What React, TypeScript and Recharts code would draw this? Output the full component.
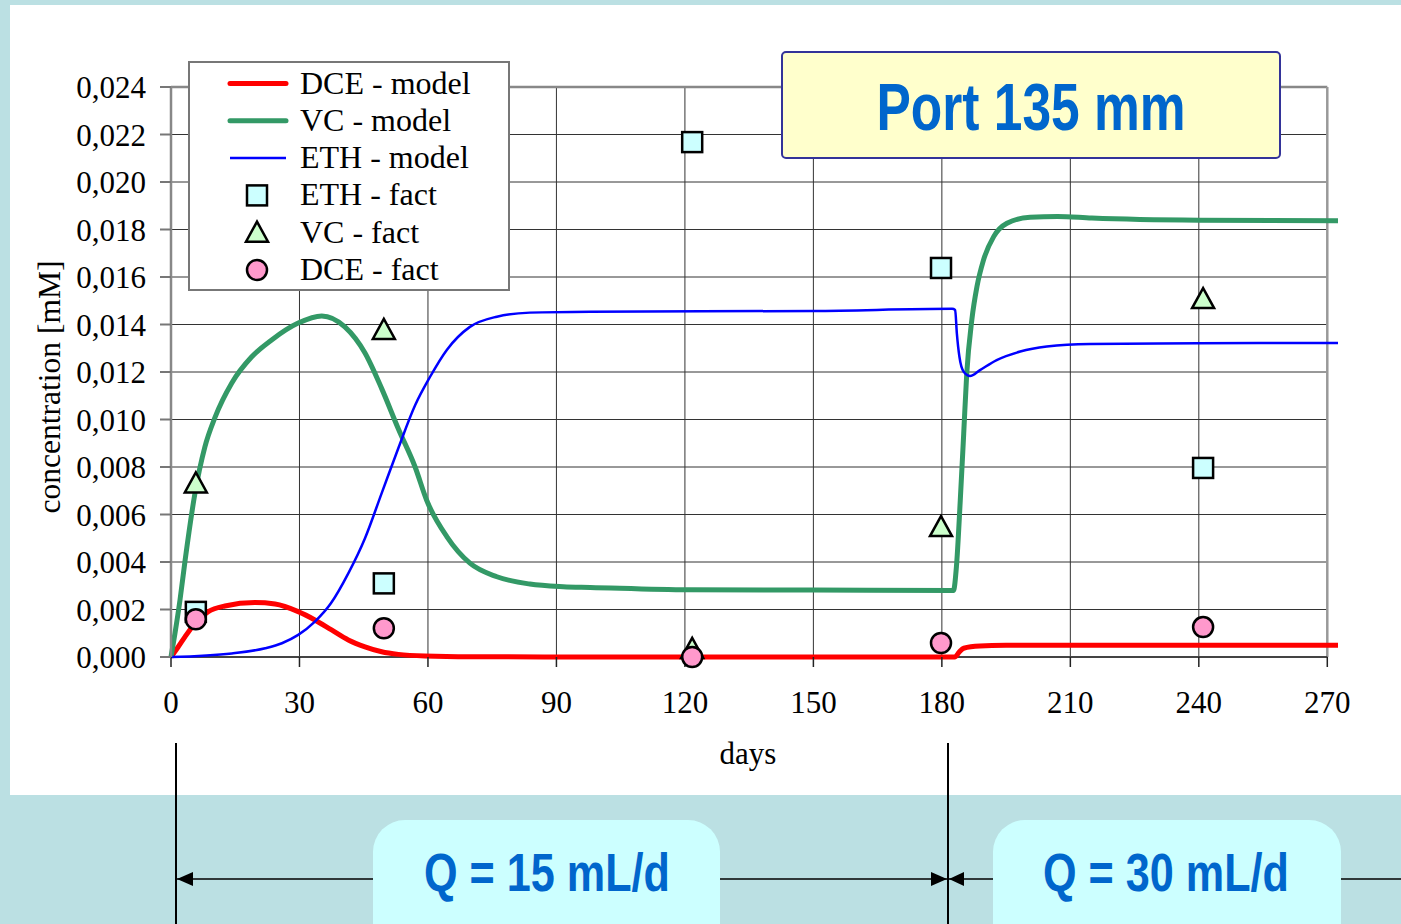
import { ComposedChart, Line, Scatter, XAxis, YAxis, ReferenceLine, Legend } from "recharts";

const serif = '"Liberation Serif", "Times New Roman", serif';
const narrow = '"Liberation Sans Narrow", "Arial Narrow", "Liberation Sans", Arial, sans-serif';

// axes
const xTicks = [0, 30, 60, 90, 120, 150, 180, 210, 240, 270];
const yTicks = [0, 0.002, 0.004, 0.006, 0.008, 0.01, 0.012, 0.014, 0.016, 0.018, 0.02, 0.022, 0.024];
const gridValues = [0.002, 0.004, 0.006, 0.008, 0.01, 0.012, 0.014, 0.016, 0.018, 0.02, 0.022];
const gridDays = [30, 60, 90, 120, 150, 180, 210, 240];

const legendNames = ["DCE - model", "VC - model", "ETH - model", "ETH - fact", "VC - fact", "DCE - fact"];

// model curves (days / mM)
const dceModelDays = [0, 1.7, 3.3, 5.6, 8.7, 12.6, 19.6, 24.3, 29.7, 33.6, 37.5, 41.4, 45.3, 49.2, 53.1, 59.3, 70, 100, 150, 183, 184.1, 185.1, 188.9, 195, 210, 240, 272.5];
const dceModelValues = [0, 0.00043, 0.00086, 0.00142, 0.00191, 0.00215, 0.00229, 0.00223, 0.00191, 0.00156, 0.00114, 0.00072, 0.00043, 0.00022, 0.00011, 0.00004, 0.00001, 0, 0, 0, 0.00022, 0.00037, 0.00046, 0.00049, 0.0005, 0.0005, 0.0005];

const vcModelDays = [0, 0.93, 2.1, 3.3, 5.6, 7.9, 10.3, 14.2, 18.8, 23.5, 29.7, 35.2, 40.6, 45.3, 49.2, 53.1, 57, 59.7, 64.4, 69.8, 76.1, 83.8, 91.6, 97.9, 120.9, 150, 182.7, 183.4, 184.3, 185.1, 185.8, 187, 188.2, 189.7, 192.1, 195.2, 200.6, 207, 215, 240, 272.5];
const vcModelValues = [0, 0.001, 0.0024, 0.00408, 0.0069, 0.00884, 0.0101, 0.01154, 0.01263, 0.01335, 0.01406, 0.01436, 0.0139, 0.0128, 0.0113, 0.0096, 0.008, 0.0066, 0.00507, 0.00395, 0.00338, 0.00307, 0.00296, 0.00293, 0.00283, 0.00282, 0.0028, 0.0038, 0.0066, 0.0094, 0.0119, 0.0142, 0.0156, 0.0167, 0.0177, 0.01826, 0.01852, 0.01855, 0.01848, 0.01839, 0.01837];

const ethModelDays = [0, 14.2, 22, 25.9, 29.7, 33.6, 37.3, 41.4, 45.3, 49.2, 53.1, 57, 60.5, 64.4, 69.8, 76.1, 83.8, 97.9, 150, 182.4, 183.1, 183.5, 184.1, 185.1, 186.6, 188.9, 192.8, 198.3, 204.5, 214.6, 240, 272.5];
const ethModelValues = [0, 0.00015, 0.00037, 0.00058, 0.00093, 0.00149, 0.00225, 0.00352, 0.005, 0.0069, 0.0088, 0.0106, 0.0118, 0.01293, 0.0139, 0.01433, 0.0145, 0.01454, 0.01457, 0.01466, 0.01461, 0.01363, 0.01264, 0.01201, 0.01183, 0.01208, 0.0125, 0.01286, 0.01307, 0.01318, 0.01321, 0.01322];

// measured
const factDays = [5.8, 49.7, 121.7, 179.8, 241];
const ethFactValues = [0.0019, 0.0031, 0.02168, 0.01638, 0.00796];
const vcFactValues = [0.00731, 0.01377, 0.00034, 0.00547, 0.01507];
const dceFactValues = [0.00159, 0.00121, 0, 0.00059, 0.00126];

const zip = (days: number[], values: number[]) => days.map((day, i) => ({ day, value: values[i] }));

const dceModel = zip(dceModelDays, dceModelValues);
const vcModel = zip(vcModelDays, vcModelValues);
const ethModel = zip(ethModelDays, ethModelValues);
const ethFact = zip(factDays, ethFactValues);
const vcFact = zip(factDays, vcFactValues);
const dceFact = zip(factDays, dceFactValues);

function SquareMark({ cx, cy }: any) {
  return <rect x={cx - 10} y={cy - 10} width={20} height={20} fill="#ccffff" stroke="#000" strokeWidth={2.5} />;
}
function TriangleMark({ cx, cy }: any) {
  return <polygon points={`${cx},${cy - 11} ${cx - 11},${cy + 9} ${cx + 11},${cy + 9}`} fill="#ccffcc" stroke="#000" strokeWidth={2.5} />;
}
function CircleMark({ cx, cy }: any) {
  return <circle cx={cx} cy={cy} r={10} fill="#ff99cc" stroke="#000" strokeWidth={2.5} />;
}

function LegendBox() {
  const rowY = (i: number) => 22.5 + i * 37.3;
  return (
    <svg width={322} height={230} style={{ display: "block" }}>
      <rect x={1} y={1} width={320} height={228} fill="#fff" stroke="#777" strokeWidth={2} />
      {legendNames.map((name, i) => {
        const y = rowY(i);
        let mark;
        if (i === 0) mark = <line x1={42} x2={98} y1={y} y2={y} stroke="#ff0000" strokeWidth={5} strokeLinecap="round" />;
        else if (i === 1) mark = <line x1={42} x2={98} y1={y} y2={y} stroke="#339966" strokeWidth={5} strokeLinecap="round" />;
        else if (i === 2) mark = <line x1={42} x2={98} y1={y} y2={y} stroke="#0000ff" strokeWidth={2.5} />;
        else if (i === 3) mark = <SquareMark cx={69} cy={y} />;
        else if (i === 4) mark = <TriangleMark cx={69} cy={y} />;
        else mark = <CircleMark cx={69} cy={y} />;
        return (
          <g key={name}>
            {mark}
            <text x={112} y={y + 10} fontFamily={serif} fontSize={32} fill="#000">{name}</text>
          </g>
        );
      })}
    </svg>
  );
}

const fmt = (v: number) => v.toFixed(3).replace(".", ",");

export default function App() {
  return (
    <div style={{ position: "absolute", left: 0, top: 0, width: 1401, height: 924, background: "#bbe0e3", overflow: "hidden" }}>
      <div style={{ position: "absolute", left: 10, top: 5, width: 1391, height: 790, background: "#fff" }} />
      <div style={{ position: "absolute", left: 0, top: 0 }}>
        <ComposedChart width={1401} height={800} margin={{ top: 87, right: 63, bottom: 83, left: 71 }}>
          {gridDays.map((d) => (
            <ReferenceLine key={"v" + d} segment={[{ x: d, y: 0 }, { x: d, y: 0.024 }]} stroke="#333" strokeWidth={1} />
          ))}
          {gridValues.map((v) => (
            <ReferenceLine key={"h" + v} segment={[{ x: 0, y: v }, { x: 270, y: v }]} stroke="#333" strokeWidth={1} />
          ))}
          <ReferenceLine segment={[{ x: 0, y: 0.024 }, { x: 270, y: 0.024 }]} stroke="#888" strokeWidth={2.5} />
          <ReferenceLine segment={[{ x: 270, y: 0 }, { x: 270, y: 0.024 }]} stroke="#999" strokeWidth={2.5} />
          <ReferenceLine segment={[{ x: 0, y: 0 }, { x: 270, y: 0 }]} stroke="#444" strokeWidth={2} />
          <XAxis
            type="number"
            dataKey="day"
            domain={[0, 272.5]}
            ticks={xTicks}
            height={60}
            tickSize={10}
            tickMargin={24}
            axisLine={false}
            tickLine={{ stroke: "#222", strokeWidth: 1.5 }}
            tick={{ fontFamily: serif, fontSize: 31, fill: "#000" }}
          />
          <YAxis
            type="number"
            domain={[0, 0.024]}
            ticks={yTicks}
            width={100}
            tickSize={11}
            tickMargin={14}
            tickFormatter={fmt}
            axisLine={{ stroke: "#888", strokeWidth: 2.5 }}
            tickLine={{ stroke: "#777", strokeWidth: 2 }}
            tick={{ fontFamily: serif, fontSize: 31, fill: "#000" }}
          />
          <Legend
            layout="vertical"
            align="center"
            verticalAlign="middle"
            wrapperStyle={{ left: 188, top: 61, width: 322, height: 230 }}
            content={() => <LegendBox />}
          />
          <Line data={dceModel} dataKey="value" name="DCE - model" type="monotone" stroke="#ff0000" strokeWidth={5} dot={false} activeDot={false} isAnimationActive={false} />
          <Line data={vcModel} dataKey="value" name="VC - model" type="monotone" stroke="#339966" strokeWidth={5} dot={false} activeDot={false} isAnimationActive={false} />
          <Line data={ethModel} dataKey="value" name="ETH - model" type="monotone" stroke="#0000ff" strokeWidth={2.5} dot={false} activeDot={false} isAnimationActive={false} />
          <Scatter data={ethFact} dataKey="value" name="ETH - fact" shape={SquareMark} isAnimationActive={false} />
          <Scatter data={vcFact} dataKey="value" name="VC - fact" shape={TriangleMark} isAnimationActive={false} />
          <Scatter data={dceFact} dataKey="value" name="DCE - fact" shape={CircleMark} isAnimationActive={false} />
        </ComposedChart>
      </div>
      <svg width={1401} height={924} style={{ position: "absolute", left: 0, top: 0, pointerEvents: "none" }}>
        <text x={60} y={387} transform="rotate(-90, 60, 387)" textAnchor="middle" fontFamily={serif} fontSize={31.5} fill="#000">
          concentration [mM]
        </text>
        <text x={748} y={764} textAnchor="middle" fontFamily={serif} fontSize={31} fill="#000">days</text>

        <rect x={782} y={52} width={498} height={106} rx={4} fill="#ffffcc" stroke="#333399" strokeWidth={2} />
        <text x={1031} y={130} textAnchor="middle" fontFamily={narrow} fontWeight="bold" fontSize={66} fill="#0066cc" textLength={309} lengthAdjust="spacingAndGlyphs">
          Port 135 mm
        </text>

        <line x1={176} x2={176} y1={743} y2={924} stroke="#000" strokeWidth={2} />
        <line x1={948} x2={948} y1={743} y2={924} stroke="#000" strokeWidth={2} />
        <line x1={176} x2={1401} y1={879} y2={879} stroke="#000" strokeWidth={1.5} />
        <polygon points="177,879 193,872 193,886" fill="#000" />
        <polygon points="947,879 931,872 931,886" fill="#000" />
        <polygon points="949,879 964,872 964,886" fill="#000" />

        <rect x={373} y={820} width={347} height={140} rx={32} fill="#ccffff" />
        <text x={547} y={891} textAnchor="middle" fontFamily={narrow} fontWeight="bold" fontSize={53} fill="#0066cc" textLength={246} lengthAdjust="spacingAndGlyphs">
          Q = 15 mL/d
        </text>
        <rect x={993} y={820} width={348} height={140} rx={32} fill="#ccffff" />
        <text x={1166} y={891} textAnchor="middle" fontFamily={narrow} fontWeight="bold" fontSize={53} fill="#0066cc" textLength={246} lengthAdjust="spacingAndGlyphs">
          Q = 30 mL/d
        </text>
      </svg>
    </div>
  );
}
